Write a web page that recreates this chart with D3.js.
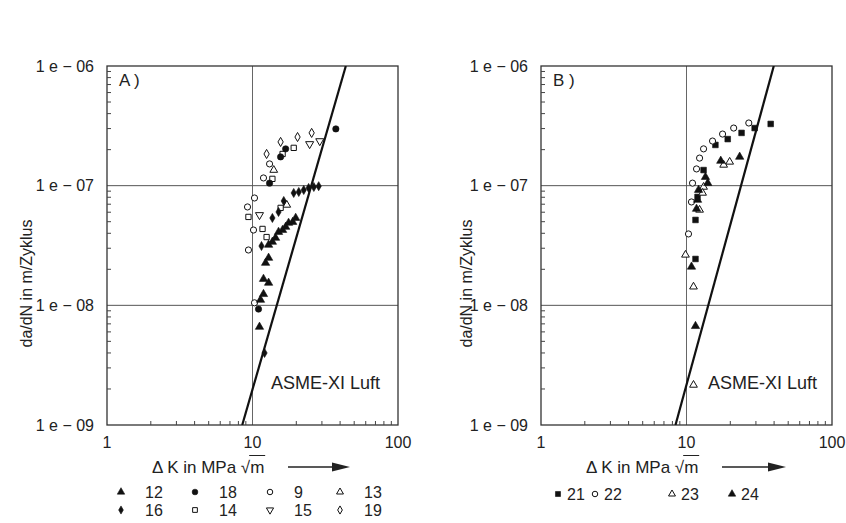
<!DOCTYPE html>
<html>
<head>
<meta charset="utf-8">
<script src="https://cdn.jsdelivr.net/npm/d3@7"></script>
<style>
    body { margin: 0; background: #fff; }
    text { font-family: "Liberation Sans", Arial, sans-serif; fill: #222; }
</style>
</head>
<body>
<svg id="chart" width="846" height="523"></svg>
<script>
// ---- data (Delta K in MPa sqrt(m), da/dN in m/cycle) ----
const xTicks = [1, 10, 100];
const yTicks = [1e-9, 1e-8, 1e-7, 1e-6];

// panel A
const s12 = [[19.8,5.37e-8],[18.9,4.97e-8],[17.7,4.88e-8],[16.9,4.52e-8],[16.1,4.26e-8],[15.1,4.10e-8],[14.4,3.66e-8],[13.7,3.39e-8],[12.9,3.2e-8],[12.9,2.49e-8],[12.3,2.26e-8],[11.9,1.66e-8],[12.9,1.54e-8],[11.9,1.24e-8],[11.35,1.11e-8],[11.17,6.6e-9]];
const s16 = [[19.2,8.69e-8],[20.8,8.86e-8],[22.5,9.2e-8],[24.3,9.57e-8],[26.4,9.75e-8],[28.5,9.9e-8],[16.4,7.45e-8],[13.7,5.37e-8],[11.53,3.13e-8],[12.1,4.0e-9],[15.1,6.03e-8]];
const s18 = [[37.4,2.98e-7],[16.9,2.03e-7],[13.1,1.05e-7],[11.0,9.3e-9],[15.6,1.74e-7]];
const s9  = [[11.9,1.16e-7],[13.1,1.52e-7],[10.32,7.89e-8],[9.24,6.64e-8],[10.16,4.26e-8],[9.38,2.9e-8],[10.32,1.05e-8]];
const s14 = [[19.2,2.07e-7],[13.7,1.14e-7],[9.38,5.48e-8],[11.72,4.35e-8],[12.5,3.72e-8],[15.6,6.52e-8],[16.1,1.84e-7]];
const s15 = [[24.7,2.23e-7],[29.0,2.36e-7],[11.17,5.69e-8]];
const s13 = [[17.2,6.9e-8],[14.0,1.35e-7]];
const s19 = [[15.6,2.32e-7],[20.4,2.55e-7],[12.5,1.84e-7],[25.5,2.76e-7]];
const asmeA = [[8.5,1e-9],[43.8,1e-6]];

// panel B
const s21 = [[37.9,3.28e-7],[29.4,3.03e-7],[23.9,2.76e-7],[19.2,2.45e-7],[15.8,2.19e-7],[13.1,1.35e-7],[11.91,8.05e-8],[11.53,5.17e-8],[11.53,2.44e-8]];
const s22 = [[26.8,3.34e-7],[21.1,3.03e-7],[17.7,2.70e-7],[15.1,2.36e-7],[13.1,2.03e-7],[12.3,1.70e-7],[11.72,1.38e-7],[11.0,1.05e-7],[10.82,7.31e-8],[10.32,3.95e-8]];
const s23 = [[19.8,1.58e-7],[18.0,1.49e-7],[13.1,9.75e-8],[12.9,8.69e-8],[12.3,6.27e-8],[9.84,2.64e-8],[11.17,1.43e-8],[11.17,2.16e-9]];
const s24 = [[23.2,1.74e-7],[17.2,1.61e-7],[13.5,1.18e-7],[14.0,1.05e-7],[12.1,9.2e-8],[11.91,7.6e-8],[11.72,6.39e-8],[10.82,2.1e-8],[11.53,6.7e-9]];
const asmeB = [[8.4,1e-9],[39.8,1e-6]];

// marker looks
const markers = {
    "12": { shape: d3.symbolTriangle, fill: true, size: 30 },
    "16": { shape: d3.symbolDiamond, fill: true, size: 24 },
    "18": { shape: d3.symbolCircle, fill: true, size: 32 },
    "9":  { shape: d3.symbolCircle, fill: false, size: 30 },
    "14": { shape: d3.symbolSquare, fill: false, size: 28 },
    "15": { shape: d3.symbolTriangle, fill: false, size: 28, rot: 180 },
    "13": { shape: d3.symbolTriangle, fill: false, size: 26 },
    "19": { shape: d3.symbolDiamond, fill: false, size: 24 },
    "21": { shape: d3.symbolSquare, fill: true, size: 32 },
    "22": { shape: d3.symbolCircle, fill: false, size: 30 },
    "23": { shape: d3.symbolTriangle, fill: false, size: 26 },
    "24": { shape: d3.symbolTriangle, fill: true, size: 30 }
};

const panels = [
    {
        label: "A )", left: 107, right: 398, top: 66, bottom: 425, titleX: 26,
        series: { "12": s12, "16": s16, "18": s18, "9": s9, "14": s14, "15": s15, "13": s13, "19": s19 },
        asme: asmeA, asmeX: 271, xTitleX: 152, arrow: [288, 350],
        legend: [["12", 121, 492], ["16", 121, 510], ["18", 195, 492], ["14", 195, 510],
                 ["9", 270, 492], ["15", 270, 510], ["13", 340, 492], ["19", 340, 510]],
        legendGap: 24
    },
    {
        label: "B )", left: 541, right: 832, top: 66, bottom: 425, titleX: 466,
        series: { "21": s21, "22": s22, "23": s23, "24": s24 },
        asme: asmeB, asmeX: 708, xTitleX: 586, arrow: [722, 786],
        legend: [["21", 558, 494], ["22", 595, 494], ["23", 672, 494], ["24", 732, 494]],
        legendGap: 9
    }
];

const svg = d3.select("#chart");

function placeMarker(sel, key, x, y, scale) {
    const m = markers[key];
    sel.append("path")
        .attr("d", d3.symbol().type(m.shape).size(m.size * (scale || 1))())
        .attr("transform", `translate(${x},${y})` + (m.rot ? ` rotate(${m.rot})` : ""))
        .attr("fill", m.fill ? "#111" : "#fff")
        .attr("stroke", "#111")
        .attr("stroke-width", m.fill ? 0.6 : 1);
}

function drawPanel(p) {
    const x = d3.scaleLog().domain([1, 100]).range([p.left, p.right]);
    const y = d3.scaleLog().domain([1e-9, 1e-6]).range([p.bottom, p.top]);
    const g = svg.append("g");

    // grid lines at inner decades
    g.selectAll(".gx").data(xTicks.slice(1, -1)).enter().append("line")
        .attr("x1", d => x(d)).attr("x2", d => x(d))
        .attr("y1", p.top).attr("y2", p.bottom)
        .attr("stroke", "#666").attr("stroke-width", 1);
    g.selectAll(".gy").data(yTicks.slice(1, -1)).enter().append("line")
        .attr("x1", p.left).attr("x2", p.right)
        .attr("y1", d => y(d)).attr("y2", d => y(d))
        .attr("stroke", "#555").attr("stroke-width", 1);

    // frame
    g.append("rect")
        .attr("x", p.left).attr("y", p.top)
        .attr("width", p.right - p.left).attr("height", p.bottom - p.top)
        .attr("fill", "none").attr("stroke", "#333").attr("stroke-width", 1.3);

    // minor ticks
    const xMinor = [], yMinor = [];
    xTicks.slice(0, -1).forEach(d => { for (let k = 2; k < 10; k++) xMinor.push(d * k); });
    yTicks.slice(0, -1).forEach(d => { for (let k = 2; k < 10; k++) yMinor.push(d * k); });
    g.selectAll(".mx").data(xMinor).enter().append("line")
        .attr("x1", d => x(d)).attr("x2", d => x(d))
        .attr("y1", p.bottom).attr("y2", p.bottom - 4)
        .attr("stroke", "#444");
    g.selectAll(".my").data(yMinor).enter().append("line")
        .attr("x1", p.left).attr("x2", p.left + 4)
        .attr("y1", d => y(d)).attr("y2", d => y(d))
        .attr("stroke", "#444");

    // tick labels
    g.selectAll(".yl").data(yTicks).enter().append("text")
        .attr("x", p.left - 13).attr("y", d => y(d))
        .attr("dy", "0.35em").attr("text-anchor", "end")
        .attr("font-size", 16)
        .text(d => "1 e \u2212 " + String(-Math.round(Math.log10(d))).padStart(2, "0"));
    g.selectAll(".xl").data(xTicks).enter().append("text")
        .attr("x", d => x(d)).attr("y", p.bottom + 17)
        .attr("dy", "0.35em").attr("text-anchor", "middle")
        .attr("font-size", 16)
        .text(d => d);

    // axis titles
    g.append("text")
        .attr("transform", `translate(${p.titleX},${(p.top + p.bottom) / 2 + 38}) rotate(-90)`)
        .attr("text-anchor", "middle").attr("dy", "0.35em")
        .attr("font-size", 16)
        .text("da/dN in m/Zyklus");

    const xt = g.append("text")
        .attr("x", p.xTitleX).attr("y", 467).attr("dy", "0.35em")
        .attr("font-size", 17)
        .text("\u0394 K in MPa \u221A");
    const w = xt.node().getComputedTextLength();
    g.append("text")
        .attr("x", p.xTitleX + w).attr("y", 467).attr("dy", "0.35em")
        .attr("font-size", 17)
        .text("m");
    g.append("line")
        .attr("x1", p.xTitleX + w - 1).attr("x2", p.xTitleX + w + 15)
        .attr("y1", 455.5).attr("y2", 455.5)
        .attr("stroke", "#222").attr("stroke-width", 1);
    g.append("line")
        .attr("x1", p.arrow[0]).attr("x2", p.arrow[1] - 14)
        .attr("y1", 467).attr("y2", 467)
        .attr("stroke", "#222").attr("stroke-width", 1.3);
    g.append("path")
        .attr("d", `M${p.arrow[1] - 18},${462.5}L${p.arrow[1]},467L${p.arrow[1] - 18},${471.5}Z`)
        .attr("fill", "#222");

    // panel label
    g.append("text")
        .attr("x", p.left + 12).attr("y", p.top + 20)
        .attr("font-size", 17)
        .text(p.label);

    // ASME line
    const clipId = "clip" + p.label[0];
    svg.append("clipPath").attr("id", clipId).append("rect")
        .attr("x", p.left).attr("y", p.top)
        .attr("width", p.right - p.left).attr("height", p.bottom - p.top);
    g.append("path")
        .datum(p.asme)
        .attr("clip-path", `url(#${clipId})`)
        .attr("d", d3.line().x(d => x(d[0])).y(d => y(d[1])))
        .attr("stroke", "#111").attr("stroke-width", 2.2).attr("fill", "none");
    g.append("text")
        .attr("x", p.asmeX).attr("y", 383).attr("dy", "0.35em")
        .attr("font-size", 18)
        .text("ASME-XI Luft");

    // data points
    Object.keys(p.series).forEach(key => {
        p.series[key].forEach(d => placeMarker(g, key, x(d[0]), y(d[1])));
    });

    // legend
    p.legend.forEach(([key, lx, ly]) => {
        placeMarker(g, key, lx, ly, 0.8);
        g.append("text")
            .attr("x", lx + p.legendGap).attr("y", ly).attr("dy", "0.35em")
            .attr("font-size", 16)
            .text(key);
    });
}

panels.forEach(drawPanel);
</script>
</body>
</html>
